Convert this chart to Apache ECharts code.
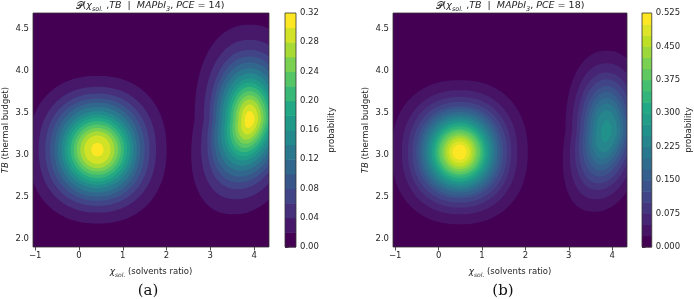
<!DOCTYPE html>
<html>
<head>
<meta charset="utf-8">
<script src="https://cdn.jsdelivr.net/npm/echarts@6/dist/echarts.min.js"></script>
<style>
    html, body { margin: 0; padding: 0; background: #fff; }
    #main { width: 694px; height: 299px; }
</style>
</head>
<body>
<div id="main"></div>
<script>
// 坐标轴刻度
const xTicks = [-1, 0, 1, 2, 3, 4];
const xTickLabels = ['−1', '0', '1', '2', '3', '4'];
const yTicks = [2.0, 2.5, 3.0, 3.5, 4.0, 4.5];
const yTickLabels = ['2.0', '2.5', '3.0', '3.5', '4.0', '4.5'];

// 等高线的分级 (a: PCE = 14, b: PCE = 18)
const levelsA = [0, 0.02, 0.04, 0.06, 0.08, 0.10, 0.12, 0.14, 0.16, 0.18, 0.20, 0.22, 0.24, 0.26, 0.28, 0.30, 0.32];
const levelsB = [0, 0.025, 0.05, 0.075, 0.1, 0.125, 0.15, 0.175, 0.2, 0.225, 0.25, 0.275, 0.3, 0.325, 0.35, 0.375, 0.4, 0.425, 0.45, 0.475, 0.5, 0.525];
const cbTicksA = [0, 0.04, 0.08, 0.12, 0.16, 0.20, 0.24, 0.28, 0.32];
const cbLabelsA = ['0.00', '0.04', '0.08', '0.12', '0.16', '0.20', '0.24', '0.28', '0.32'];
const cbTicksB = [0, 0.075, 0.15, 0.225, 0.3, 0.375, 0.45, 0.525];
const cbLabelsB = ['0.000', '0.075', '0.150', '0.225', '0.300', '0.375', '0.450', '0.525'];

// 每个峰: 峰值位置, 以及每条等高线在 x / y 方向的半宽
// (a) 左峰
const a1Centre = [0.42, 3.06];
const a1Rx = [1.58, 1.34, 1.19, 1.08, 0.98, 0.90, 0.82, 0.75, 0.68, 0.61, 0.54, 0.47, 0.39, 0.30, 0.14];
const a1Ry = [0.88, 0.75, 0.67, 0.61, 0.56, 0.51, 0.46, 0.42, 0.38, 0.34, 0.30, 0.26, 0.22, 0.17, 0.08];
const a1Lean = 0;
// (a) 右峰
const a2Centre = [3.90, 3.42];
const a2Rx = [1.26, 1.05, 0.92, 0.84, 0.77, 0.70, 0.63, 0.56, 0.50, 0.44, 0.38, 0.32, 0.26, 0.19, 0.11];
const a2Ry = [1.13, 0.95, 0.83, 0.75, 0.68, 0.61, 0.55, 0.49, 0.44, 0.39, 0.34, 0.29, 0.24, 0.18, 0.10];
const a2Lean = 0.33;
// (b) 左峰
const b1Centre = [0.485, 3.03];
const b1Rx = [1.57, 1.33, 1.19, 1.09, 1.00, 0.93, 0.87, 0.81, 0.75, 0.70, 0.65, 0.60, 0.56, 0.51, 0.47, 0.41, 0.36, 0.30, 0.24, 0.16];
const b1Ry = [0.86, 0.74, 0.66, 0.60, 0.55, 0.52, 0.48, 0.45, 0.42, 0.39, 0.36, 0.34, 0.31, 0.28, 0.26, 0.23, 0.20, 0.17, 0.13, 0.09];
const b1Lean = 0;
// (b) 右峰
const b2Centre = [3.87, 3.28];
const b2Rx = [0.95, 0.80, 0.69, 0.61, 0.53, 0.46, 0.39, 0.32, 0.24, 0.12];
const b2Ry = [0.96, 0.81, 0.70, 0.62, 0.54, 0.47, 0.40, 0.33, 0.25, 0.13];
const b2Lean = 0.3;

// viridis 色带
const viridisStops = ['#440154', '#482475', '#414487', '#355f8d', '#2a788e', '#21918c', '#22a884', '#44bf70', '#7ad151', '#bddf26', '#fde725'];
function viridis(t) {
    let p = Math.max(0, Math.min(1, t)) * (viridisStops.length - 1);
    let i = Math.min(Math.floor(p), viridisStops.length - 2), f = p - i;
    let c0 = echarts.color.parse(viridisStops[i]), c1 = echarts.color.parse(viridisStops[i + 1]);
    let c = [0, 1, 2].map(k => Math.round(c0[k] + (c1[k] - c0[k]) * f));
    return 'rgb(' + c.join(',') + ')';
}

// 把各个峰的等高线整理成 custom series 的数据 (低的先画)
function contourData(blobs, levels) {
    let nBands = levels.length - 1, data = [];
    for (let i = 0; i < nBands; i++) {
        blobs.forEach(b => {
            if (i >= b.rx.length) return;
            // 外圈稍微方一点, 内圈是椭圆
            let squareness = 2 + 0.25 * Math.max(0, 1 - 2 * i / (b.rx.length - 1));
            data.push({
                value: [b.centre[0], b.centre[1], b.rx[i], b.ry[i], b.lean, squareness],
                itemStyle: { color: viridis((i + 1) / (nBands - 1)) }
            });
        });
    }
    return data;
}
function colorbarData(levels) {
    let nBands = levels.length - 1, data = [];
    for (let i = 0; i < nBands; i++) {
        data.push({ value: [levels[i], levels[i + 1]], itemStyle: { color: viridis(i / (nBands - 1)) } });
    }
    return data;
}

function spow(v, e) { return Math.sign(v) * Math.pow(Math.abs(v), e); }

function renderContour(params, api) {
    let cx = api.value(0), cy = api.value(1), rx = api.value(2), ry = api.value(3), lean = api.value(4), n = api.value(5);
    let pts = [];
    for (let k = 0; k < 160; k++) {
        let t = k / 160 * Math.PI * 2;
        let dy = spow(Math.sin(t), 2 / n) * ry;
        let dx = spow(Math.cos(t), 2 / n) * rx + (dy < 0 ? lean * dy : 0);
        pts.push(api.coord([cx + dx, cy + dy]));
    }
    let r = params.coordSys;
    return {
        type: 'polygon', shape: { points: pts }, style: { fill: api.visual('color') },
        clipPath: { type: 'rect', shape: { x: r.x, y: r.y, width: r.width, height: r.height } }
    };
}
function renderBackground(params, api) {
    let r = params.coordSys;
    return { type: 'rect', shape: { x: r.x, y: r.y, width: r.width, height: r.height }, style: { fill: viridis(0) } };
}
function renderColorbar(params, api) {
    let p0 = api.coord([0, api.value(0)]), p1 = api.coord([1, api.value(1)]);
    return { type: 'rect', shape: { x: p0[0], y: p1[1], width: p1[0] - p0[0], height: p0[1] - p1[1] + 0.5 }, style: { fill: api.visual('color') } };
}

function pick(ticks, labels) {
    return v => {
        let i = ticks.findIndex(t => Math.abs(t - v) < 1e-6);
        return i < 0 ? '' : labels[i];
    };
}

const FONT = 'DejaVu Sans';
const INK = '#262626';
const labelStyle = { fontFamily: FONT, fontSize: 8.5, color: INK };
const tickStyle = { show: true, length: 3.5, lineStyle: { color: INK, width: 0.8 } };

function mainX(grid) {
    return {
        type: 'value', gridIndex: grid, min: -1.05, max: 4.34,
        splitLine: { show: false }, axisLine: { show: false },
        axisTick: Object.assign({ customValues: xTicks }, tickStyle),
        axisLabel: Object.assign({ customValues: xTicks, margin: 4, formatter: pick(xTicks, xTickLabels) }, labelStyle),
        name: '{i|χ}{s|sol.} (solvents ratio)', nameLocation: 'middle', nameGap: 19,
        nameTextStyle: {
            fontFamily: FONT, fontSize: 8.5, color: INK,
            rich: {
                i: { fontFamily: FONT, fontSize: 9, fontStyle: 'italic', color: INK, lineHeight: 12 },
                s: { fontFamily: FONT, fontSize: 6, fontStyle: 'italic', color: INK, lineHeight: 7, verticalAlign: 'bottom' }
            }
        }
    };
}
function mainY(grid) {
    return {
        type: 'value', gridIndex: grid, min: 1.9, max: 4.69,
        splitLine: { show: false }, axisLine: { show: false },
        axisTick: Object.assign({ customValues: yTicks }, tickStyle),
        axisLabel: Object.assign({ customValues: yTicks, margin: 4, formatter: pick(yTicks, yTickLabels) }, labelStyle),
        name: '{i|TB} (thermal budget)', nameLocation: 'middle', nameGap: 23, nameRotate: 90,
        nameTextStyle: {
            fontFamily: FONT, fontSize: 8.5, color: INK,
            rich: { i: { fontFamily: FONT, fontSize: 8.5, fontStyle: 'italic', color: INK } }
        }
    };
}
function barX(grid) {
    return { type: 'value', gridIndex: grid, min: 0, max: 1, show: false };
}
function barY(grid, max, ticks, labels) {
    return {
        type: 'value', gridIndex: grid, position: 'right', min: 0, max: max,
        splitLine: { show: false }, axisLine: { show: false },
        axisTick: Object.assign({ customValues: ticks }, tickStyle),
        axisLabel: Object.assign({ customValues: ticks, margin: 4, formatter: pick(ticks, labels) }, labelStyle),
        name: 'probability', nameLocation: 'middle', nameRotate: 90, nameGap: 31,
        nameTextStyle: { fontFamily: FONT, fontSize: 8.5, color: INK }
    };
}

function titleText(pce) {
    return {
        type: 'text', x: 0, y: 0,
        style: {
            text: '{p|𝒫}{n|(}{i|χ}{s|sol.}{n| ,}{i|TB}{n|  |  }{i|MAPbI}{s|3}{n|, }{i|PCE}{n| = ' + pce + ')}',
            align: 'center', verticalAlign: 'middle',
            rich: {
                p: { fontFamily: FONT, fontSize: 10, fill: INK, lineHeight: 13 },
                n: { fontFamily: FONT, fontSize: 9.5, fill: INK, lineHeight: 13 },
                i: { fontFamily: FONT, fontSize: 9.5, fontStyle: 'italic', fill: INK, lineHeight: 13 },
                s: { fontFamily: FONT, fontSize: 6.5, fontStyle: 'italic', fill: INK, lineHeight: 7, verticalAlign: 'bottom' }
            }
        }
    };
}

const blobsA = [
    { centre: a1Centre, rx: a1Rx, ry: a1Ry, lean: a1Lean },
    { centre: a2Centre, rx: a2Rx, ry: a2Ry, lean: a2Lean }
];
const blobsB = [
    { centre: b1Centre, rx: b1Rx, ry: b1Ry, lean: b1Lean },
    { centre: b2Centre, rx: b2Rx, ry: b2Ry, lean: b2Lean }
];

const frame = { show: true, borderColor: '#333', borderWidth: 0.8, backgroundColor: 'transparent', z: 10 };

let option = {
    animation: false,
    backgroundColor: '#fff',
    grid: [
        Object.assign({ left: 32, top: 13, width: 237, height: 234 }, frame),
        Object.assign({ left: 285, top: 13, width: 11, height: 234 }, frame),
        Object.assign({ left: 393, top: 13, width: 234, height: 234 }, frame),
        Object.assign({ left: 642, top: 13, width: 11, height: 234 }, frame)
    ],
    xAxis: [mainX(0), barX(1), mainX(2), barX(3)],
    yAxis: [
        mainY(0),
        barY(1, levelsA[levelsA.length - 1], cbTicksA, cbLabelsA),
        mainY(2),
        barY(3, levelsB[levelsB.length - 1], cbTicksB, cbLabelsB)
    ],
    series: [
        { type: 'custom', xAxisIndex: 0, yAxisIndex: 0, data: [[0, 0]], renderItem: renderBackground, silent: true },
        { type: 'custom', xAxisIndex: 0, yAxisIndex: 0, data: contourData(blobsA, levelsA), renderItem: renderContour, silent: true },
        { type: 'custom', xAxisIndex: 1, yAxisIndex: 1, data: colorbarData(levelsA), renderItem: renderColorbar, silent: true },
        { type: 'custom', xAxisIndex: 2, yAxisIndex: 2, data: [[0, 0]], renderItem: renderBackground, silent: true },
        { type: 'custom', xAxisIndex: 2, yAxisIndex: 2, data: contourData(blobsB, levelsB), renderItem: renderContour, silent: true },
        { type: 'custom', xAxisIndex: 3, yAxisIndex: 3, data: colorbarData(levelsB), renderItem: renderColorbar, silent: true }
    ],
    graphic: [
        Object.assign(titleText(14), { x: 150, y: 6 }),
        Object.assign(titleText(18), { x: 510, y: 6 }),
        { type: 'text', x: 148, y: 291, style: { text: '(a)', fontFamily: 'DejaVu Serif', fontSize: 15, fill: '#111', align: 'center', verticalAlign: 'middle' } },
        { type: 'text', x: 503, y: 291, style: { text: '(b)', fontFamily: 'DejaVu Serif', fontSize: 15, fill: '#111', align: 'center', verticalAlign: 'middle' } }
    ]
};

let myChart = echarts.init(document.getElementById('main'));
myChart.setOption(option);
</script>
</body>
</html>
